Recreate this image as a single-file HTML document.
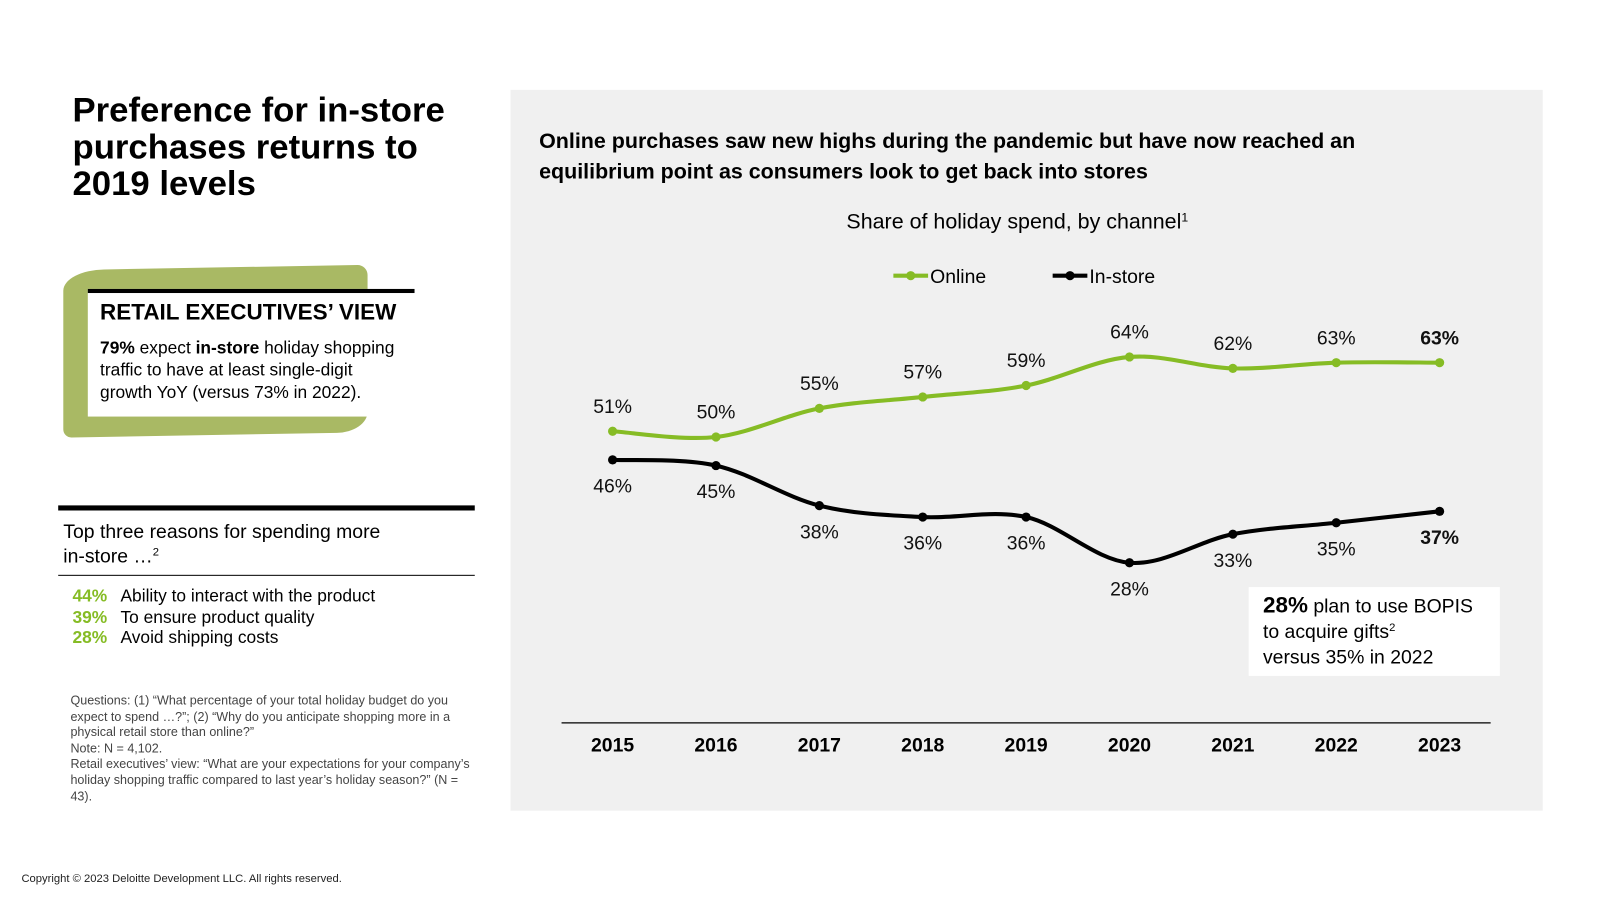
<!DOCTYPE html>
<html><head><meta charset="utf-8">
<style>
body{margin:0;width:1600px;height:900px;background:#fff;position:relative;overflow:hidden;font-family:"Liberation Sans",sans-serif;color:#000}
#wrap{position:absolute;left:0;top:0;width:1568px;height:882px;transform:scale(1.021);transform-origin:0 0}
.a{position:absolute}
sup{line-height:0;vertical-align:0;position:relative;top:-0.6em}
</style></head><body><div id="wrap">
<div class="a" style="left:71px;top:90px;font-size:34px;font-weight:bold;line-height:36px;width:400px">Preference for in-store purchases returns to 2019 levels</div>

<div class="a" style="left:62px;top:262px;width:298px;height:164px;background:#a9b964;border-radius:40px 10px 30px 8px/20px 10px 20px 8px;transform:skewY(-1deg)"></div>
<div class="a" style="left:86px;top:283px;width:320px;height:121px;background:#fff;border-top:4px solid #000"></div>
<div class="a" style="left:98px;top:293px;font-size:22px;font-weight:bold">RETAIL EXECUTIVES’ VIEW</div>
<div class="a" style="left:98px;top:330px;font-size:17px;line-height:22px;width:300px"><b>79%</b> expect <b>in-store</b> holiday shopping traffic to have at least single-digit growth YoY (versus 73% in 2022).</div>

<div class="a" style="left:57px;top:495px;width:408px;height:5px;background:#000"></div>
<div class="a" style="left:62px;top:510px;font-size:19px;line-height:24px">Top three reasons for spending more<br>in-store …<sup style="font-size:11px">2</sup></div>
<div class="a" style="left:57px;top:563px;width:408px;height:1px;background:#000"></div>
<div class="a" style="left:71px;top:574px;font-size:17px;line-height:20.5px">
<div><b style="color:#86bc25;display:inline-block;width:47px">44%</b>Ability to interact with the product</div>
<div><b style="color:#86bc25;display:inline-block;width:47px">39%</b>To ensure product quality</div>
<div><b style="color:#86bc25;display:inline-block;width:47px">28%</b>Avoid shipping costs</div>
</div>
<div class="a" style="left:69px;top:679px;font-size:12.3px;line-height:15.6px;color:#444;width:400px">Questions: (1) “What percentage of your total holiday budget do you expect to spend …?”; (2) “Why do you anticipate shopping more in a physical retail store than online?”<br>Note: N = 4,102.<br>Retail executives’ view: “What are your expectations for your company’s holiday shopping traffic compared to last year’s holiday season?” (N = 43).</div>
<div class="a" style="left:21px;top:855px;font-size:11px;color:#222">Copyright © 2023 Deloitte Development LLC. All rights reserved.</div>

<div class="a" style="left:500px;top:88px;width:1011px;height:706px;background:#f0f0f0"></div>
<div class="a" style="left:528px;top:124px;font-size:21px;font-weight:bold;line-height:30px;width:900px">Online purchases saw new highs during the pandemic but have now reached an equilibrium point as consumers look to get back into stores</div>
<div class="a" style="left:829px;top:206px;font-size:21px">Share of holiday spend, by channel<sup style="font-size:12px">1</sup></div>

<svg class="a" id="chart" style="left:0;top:0" width="1568" height="882"></svg>

<div class="a" style="left:1223px;top:575px;width:246px;height:87px;background:#fff"></div>
<div class="a" style="left:1237px;top:580px;font-size:19px;line-height:25px"><b style="font-size:22px">28%</b> plan to use BOPIS<br>to acquire gifts<sup style="font-size:11px">2</sup><br>versus 35% in 2022</div>
</div>
<script>
const years=[2015,2016,2017,2018,2019,2020,2021,2022,2023];
const online=[51,50,55,57,59,64,62,63,63];
const instore=[46,45,38,36,36,28,33,35,37];
const ns="http://www.w3.org/2000/svg";
const svg=document.getElementById('chart');
function xS(i){return 600+i*101.25;}
function yS(v){return 708-v*5.6;}
function mk(t,a){const e=document.createElementNS(ns,t);for(const k in a)e.setAttribute(k,a[k]);svg.appendChild(e);return e;}
function path(vals){
  const p=vals.map((v,i)=>[xS(i),yS(v)]);
  let d='M'+p[0][0]+','+p[0][1];
  for(let i=0;i<p.length-1;i++){
    const p0=p[Math.max(0,i-1)],p1=p[i],p2=p[i+1],p3=p[Math.min(p.length-1,i+2)];
    const c1=[p1[0]+(p2[0]-p0[0])/6,p1[1]+(p2[1]-p0[1])/6];
    const c2=[p2[0]-(p3[0]-p1[0])/6,p2[1]-(p3[1]-p1[1])/6];
    d+=' C'+c1+' '+c2+' '+p2;
  }
  return d;
}
const ax=mk('line',{x1:550,x2:1460,y1:708,y2:708,stroke:'#000','stroke-width':1.2});


years.forEach((y,i)=>{
  const t=mk('text',{x:xS(i),y:736,'text-anchor':'middle','font-size':19,'font-weight':'bold','font-family':'Liberation Sans, sans-serif'});
  t.textContent=y;
  
  
});
function series(vals,color,name,above){
  const l=mk('path',{d:path(vals),fill:'none',stroke:color,'stroke-width':4});
  
  
  vals.forEach((v,i)=>{
    const c=mk('circle',{cx:xS(i),cy:yS(v),r:4.5,fill:color});
    
    
    const last=i===vals.length-1;
    const t=mk('text',{x:xS(i),y:above?yS(v)-18:yS(v)+32,'text-anchor':'middle','font-size':19,'font-weight':last?'bold':'normal','font-family':'Liberation Sans, sans-serif',fill:'#111'});
    t.textContent=v+'%';
    
    
  });
}
series(online,'#86bc25','online',true);
series(instore,'#000','instore',false);
function leg(x,color,label,name){
  const l=mk('line',{x1:x,x2:x+34,y1:270,y2:270,stroke:color,'stroke-width':4});
  
  
  const c=mk('circle',{cx:x+17,cy:270,r:4.5,fill:color});
  
  
  const t=mk('text',{x:x+36,y:277,'font-size':19,'font-family':'Liberation Sans, sans-serif'});
  t.textContent=label;
  
  
}
leg(875,'#86bc25','Online','online');
leg(1031,'#000','In-store','instore');
</script>
</body></html>
